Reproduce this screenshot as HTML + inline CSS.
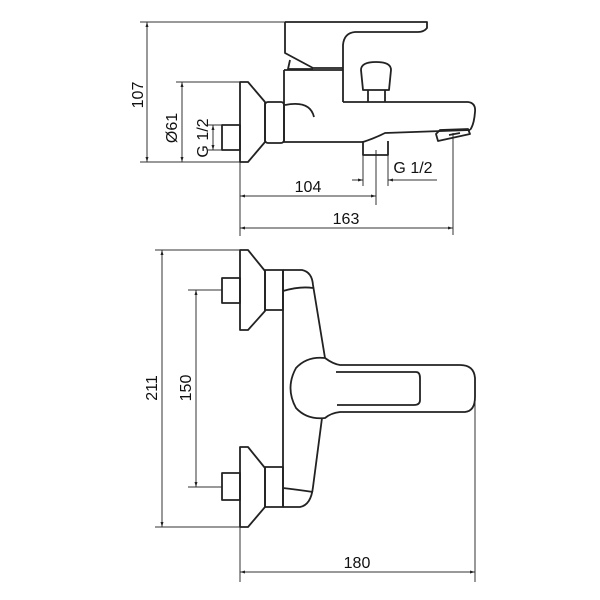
<!DOCTYPE html>
<html><head><style>body{margin:0;background:#fff}svg{display:block}</style></head>
<body>
<svg width="600" height="600" viewBox="0 0 600 600" xmlns="http://www.w3.org/2000/svg">
<defs>
<marker id="a" viewBox="0 0 10 10" refX="10" refY="5" markerWidth="7" markerHeight="5" orient="auto-start-reverse"><path d="M0,2 L10,5 L0,8z" fill="#222"/></marker>
</defs>
<g fill="none" stroke="#333" stroke-width="1">
<line x1="140" y1="22" x2="285" y2="22"/>
<line x1="140" y1="162" x2="240" y2="162"/>
<line x1="147" y1="22" x2="147" y2="162" marker-start="url(#a)" marker-end="url(#a)"/>
<line x1="176" y1="82" x2="240" y2="82"/>
<line x1="182" y1="82" x2="182" y2="162" marker-start="url(#a)" marker-end="url(#a)"/>
<line x1="208" y1="125" x2="222" y2="125"/>
<line x1="208" y1="150" x2="222" y2="150"/>
<line x1="213" y1="125" x2="213" y2="150" marker-start="url(#a)" marker-end="url(#a)"/>
<line x1="240" y1="162" x2="240" y2="236"/>
<line x1="363" y1="155" x2="363" y2="186"/>
<line x1="388" y1="155" x2="388" y2="186"/>
<line x1="352" y1="180" x2="363" y2="180" marker-end="url(#a)"/>
<line x1="388" y1="180" x2="437" y2="180" marker-start="url(#a)"/>
<line x1="376" y1="150" x2="376" y2="205"/>
<line x1="240" y1="196" x2="376" y2="196" marker-start="url(#a)" marker-end="url(#a)"/>
<line x1="453" y1="133" x2="453" y2="235"/>
<line x1="240" y1="228" x2="453" y2="228" marker-start="url(#a)" marker-end="url(#a)"/>
<line x1="155" y1="250" x2="240" y2="250"/>
<line x1="155" y1="527" x2="240" y2="527"/>
<line x1="162" y1="250" x2="162" y2="527" marker-start="url(#a)" marker-end="url(#a)"/>
<line x1="188" y1="290" x2="222" y2="290"/>
<line x1="188" y1="487" x2="222" y2="487"/>
<line x1="196" y1="290" x2="196" y2="487" marker-start="url(#a)" marker-end="url(#a)"/>
<line x1="240" y1="527" x2="240" y2="582"/>
<line x1="475" y1="400" x2="475" y2="582"/>
<line x1="240" y1="572" x2="475" y2="572" marker-start="url(#a)" marker-end="url(#a)"/>
</g>
<g fill="none" stroke="#222" stroke-width="1.8" stroke-linejoin="round">
<path d="M240,82 L248,82 L265,102 L265,142 L248,162 L240,162 Z"/>
<rect x="222" y="125" width="18" height="25"/>
<rect x="265" y="102" width="19" height="41" rx="3"/>
<path d="M284,70 L284,142 L363,142 Q375,138 385,133 L470,130"/>
<path d="M284,70 L343,70"/>
<path d="M343,102 L468,102 Q476,103 475,112 Q474,125 470,130"/>
<path d="M440,130 L436,134 L438,141 L470,134 L468,129 Z"/>
<path d="M449,135 L460,133"/>
<path d="M285,22 L427,22 L427,28 Q424,32 418,32 L355,32 Q344,33 343,45 L343,102"/>
<path d="M285,22 L285,53 L313,68 L343,68"/>
<path d="M290,60 L288,69 L313,69"/>
<path d="M363,141 L363,155 L388,155 L388,141"/>
<path d="M361,70 Q361,62 376,62 Q391,62 391,70 L389,90 L363,90 Z"/>
<path d="M368,90 L368,102 M385,90 L385,102"/>
<path d="M285,105 Q310,100 314,117"/>
<path d="M240,250 L248,250 L265,271 L265,311 L248,330 L240,330 Z"/>
<rect x="222" y="278" width="18" height="25"/>
<rect x="265" y="270" width="18" height="40"/>
<path d="M240,447 L248,447 L265,468 L265,507 L248,527 L240,527 Z"/>
<rect x="222" y="473" width="18" height="27"/>
<rect x="265" y="467" width="18" height="40"/>
<path d="M283,270 L283,507"/>
<path d="M283,270 L302,270 Q312,272 313,285 L325,358"/>
<path d="M322,418 L313,487 Q311,505 300,507 L283,507"/>
<path d="M283,291 Q300,286 313,288 M283,488 Q300,490 313,492"/>
<path d="M325,358 Q307,356 296,368 Q285,388 296,408 Q307,420 325,418 Q331,413 340,412 L465,412 Q475,411 475,397 L475,378 Q474,365 460,365 L340,365 Q333,364 325,358"/>
<path d="M336,372 L416,372 Q420,372 420,378 L420,400 Q420,405 414,405 L337,405"/>
</g>
<g font-family="Liberation Sans, sans-serif" font-size="16" fill="#111">
<text transform="translate(143,95) rotate(-90)" text-anchor="middle">107</text>
<text transform="translate(177,128) rotate(-90)" text-anchor="middle">Ø61</text>
<text transform="translate(208,138) rotate(-90)" text-anchor="middle">G 1/2</text>
<text x="413" y="173" text-anchor="middle">G 1/2</text>
<text x="308" y="192" text-anchor="middle">104</text>
<text x="346" y="224" text-anchor="middle">163</text>
<text transform="translate(157,388) rotate(-90)" text-anchor="middle">211</text>
<text transform="translate(191,388) rotate(-90)" text-anchor="middle">150</text>
<text x="357" y="568" text-anchor="middle">180</text>
</g>
</svg>
</body></html>
